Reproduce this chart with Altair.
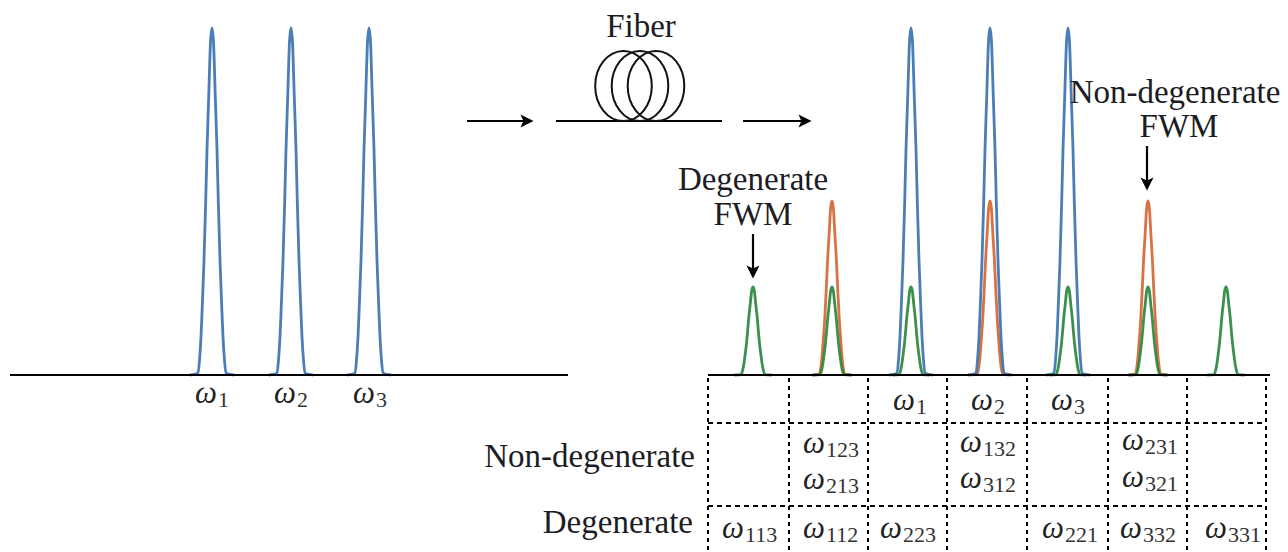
import altair as alt
import pandas as pd

SERIF = "Liberation Serif"
AXIS_Y = 375

# pulse profile: offset from the centre, fraction of the peak height
PROFILE_OFFSET = [-22, -14, -12.3, -11, -9.7, -8, -6.3, -5, -3.3, -1.5, 0, 1.5, 3.3, 5, 6.3, 8, 9.7, 11, 12.3, 14, 22]
PROFILE_HEIGHT = [0, .005, .05, .11, .2, .33, .5, .65, .8, .96, 1, .96, .8, .65, .5, .33, .2, .11, .05, .005, 0]

BLUE_CENTRES = [212, 291, 369, 911, 990, 1068]
ORANGE_CENTRES = [832, 990, 1148]
GREEN_CENTRES = [753, 832, 911, 1068, 1148, 1226]
BLUE_TOP, ORANGE_TOP, GREEN_TOP = 28, 201, 287
COLORS = {"blue": "#376fae", "orange": "#d5632f", "green": "#27843a"}
WIDTHS = {"blue": 1.0, "orange": 0.9, "green": 0.85}

GRID_X = [708, 789, 868, 947, 1027, 1108, 1187, 1266]
GRID_Y = [423, 506]

OMEGAS = [
    ("1", 195, 403), ("2", 274, 403), ("3", 353, 403),
    ("1", 893, 410), ("2", 971, 410), ("3", 1051, 410),
    ("123", 803, 453), ("213", 803, 489),
    ("132", 960, 452), ("312", 960, 488),
    ("231", 1122, 450), ("321", 1122, 487),
    ("113", 722, 538), ("112", 803, 538), ("223", 880, 538),
    ("221", 1042, 538), ("332", 1120, 538), ("331", 1205, 538),
]
LABELS = [
    ("Fiber", 641, 37, "center"),
    ("Degenerate", 753, 190, "center"),
    ("FWM", 753, 225, "center"),
    ("Non-degenerate", 1175, 103, "center"),
    ("FWM", 1179, 137, "center"),
    ("Non-degenerate", 695, 467, "right"),
    ("Degenerate", 693, 533, "right"),
]
SOLID_LINES = [(10, 568, 375), (708, 1270, 375), (556, 722, 121)]
H_ARROWS = [(467, 527, 121), (743, 805, 121)]
H_HEADS = [(527, 121), (805, 121)]
V_ARROWS = [(753, 234, 272), (1147, 146, 184)]
V_HEADS = [(753, 272), (1147, 184)]
LOOPS = [(623.5, 86), (640, 86), (656, 86)]

X = alt.Scale(domain=[8, 1280], range=[0, 1272])
Y = alt.Scale(domain=[8, 552], range=[0, 544])


def qx(f="x"):
    return alt.X(f"{f}:Q", scale=X, axis=None)


def qy(f="y"):
    return alt.Y(f"{f}:Q", scale=Y, axis=None)


def peaks(name, centres, top):
    rows = []
    for c in centres:
        for o, h in zip(PROFILE_OFFSET, PROFILE_HEIGHT):
            rows.append({"id": f"{name}{c}", "x": c + o * WIDTHS[name], "y": AXIS_Y - (AXIS_Y - top) * h})
    return alt.Chart(pd.DataFrame(rows)).mark_line(
        color=COLORS[name], strokeWidth=2.8, opacity=0.9, interpolate="monotone"
    ).encode(x=qx(), y=qy(), detail="id:N", order=alt.Order("x:Q"))


def h_rules(rows, **kw):
    d = pd.DataFrame(rows, columns=["x", "x2", "y"])
    return alt.Chart(d).mark_rule(color="black", **kw).encode(x=qx(), x2="x2:Q", y=qy())


def v_rules(rows, **kw):
    d = pd.DataFrame(rows, columns=["x", "y", "y2"])
    return alt.Chart(d).mark_rule(color="black", **kw).encode(x=qx(), y=qy(), y2="y2:Q")


HEAD = "M1 0 L-1 -1 L-0.55 0 L-1 1 Z"
LOOP = "M0 -1.24 A1 1.24 0 1 1 0 1.24 A1 1.24 0 1 1 0 -1.24 Z"


def heads(rows, angle):
    d = pd.DataFrame(rows, columns=["x", "y"])
    return alt.Chart(d).mark_point(
        shape=HEAD, size=170, filled=True, color="black", opacity=1, angle=angle
    ).encode(x=qx(), y=qy())


loops = alt.Chart(pd.DataFrame(LOOPS, columns=["x", "y"])).mark_point(
    shape=LOOP, size=3204, filled=False, color="#111111", strokeWidth=2, opacity=1
).encode(x=qx(), y=qy())

grid_v = v_rules([(x, 378, 552) for x in GRID_X], strokeWidth=2, strokeDash=[4, 4])
grid_h = h_rules([(708, 1266, y) for y in GRID_Y], strokeWidth=2, strokeDash=[5, 4])

om = pd.DataFrame(OMEGAS, columns=["sub", "x", "y"])
om["omega"] = "ω"
om["sx"] = om["x"] + 23
om["sy"] = om["y"] + 4
omega_text = alt.Chart(om).mark_text(
    font=SERIF, fontStyle="italic", fontSize=31, align="left", baseline="alphabetic", color="#222222"
).encode(x=qx(), y=qy(), text="omega:N")
sub_text = alt.Chart(om).mark_text(
    font=SERIF, fontSize=22, align="left", baseline="alphabetic", color="#333333"
).encode(x=qx("sx"), y=qy("sy"), text="sub:N")

lab = pd.DataFrame(LABELS, columns=["t", "x", "y", "align"])
label_layers = [
    alt.Chart(lab[lab["align"] == a]).mark_text(
        font=SERIF, fontSize=33, align=a, baseline="alphabetic", color="#1c1c24"
    ).encode(x=qx(), y=qy(), text="t:N")
    for a in ["center", "right"]
]

chart = alt.layer(
    grid_v, grid_h,
    peaks("orange", ORANGE_CENTRES, ORANGE_TOP),
    peaks("blue", BLUE_CENTRES, BLUE_TOP),
    peaks("green", GREEN_CENTRES, GREEN_TOP),
    h_rules(SOLID_LINES, strokeWidth=2.2),
    h_rules(H_ARROWS, strokeWidth=2.2),
    v_rules(V_ARROWS, strokeWidth=2.2),
    heads(H_HEADS, 0),
    heads(V_HEADS, 90),
    loops,
    omega_text, sub_text,
    *label_layers,
).properties(
    width=1272, height=544,
    autosize=alt.AutoSizeParams(type="none"),
    padding=0,
    background="white",
).configure_view(stroke=None)

chart.save("out.html", embed_options={"renderer": "svg", "actions": False})
